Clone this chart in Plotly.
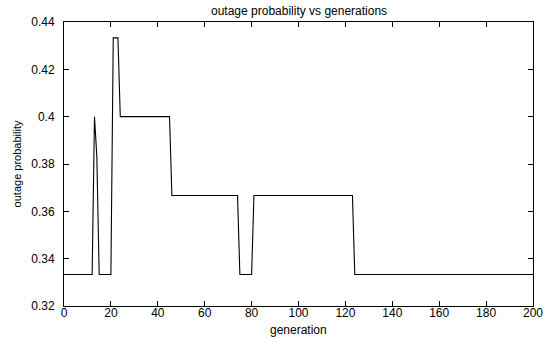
import plotly.graph_objects as go

# breakpoints of the outage-probability curve (generation, value)
generation = [0, 12, 13, 14, 15, 20, 21, 23, 24, 45, 46, 74, 75, 80, 81, 123, 124, 200]
outage_prob = [0.3333, 0.3333, 0.4, 0.3833, 0.3333, 0.3333, 0.4333, 0.4333, 0.4,
               0.4, 0.3667, 0.3667, 0.3333, 0.3333, 0.3667, 0.3667, 0.3333, 0.3333]

x_ticks = [0, 20, 40, 60, 80, 100, 120, 140, 160, 180, 200]
y_ticks = [0.32, 0.34, 0.36, 0.38, 0.40, 0.42, 0.44]
y_tick_labels = ["0.32", "0.34", "0.36", "0.38", "0.4", "0.42", "0.44"]

W, H = 555, 339
ML, MR, MT, MB = 64, 18, 22, 33
PW, PH = W - ML - MR, H - MT - MB

fig = go.Figure()
fig.add_trace(go.Scatter(x=generation, y=outage_prob, mode="lines",
                         line=dict(color="black", width=1.1), showlegend=False))

FAM = "Liberation Sans, Arial, sans-serif"
font = dict(family=FAM, size=12, color="black")

axis_common = dict(showline=True, linecolor="black", linewidth=1, mirror="ticks",
                   ticks="inside", ticklen=5, tickcolor="black", showgrid=False,
                   zeroline=False)

fig.update_layout(
    width=W, height=H, margin=dict(l=ML, r=MR, t=MT, b=MB),
    paper_bgcolor="white", plot_bgcolor="white", font=font,
    xaxis=dict(range=[0, 200], tickvals=x_ticks, ticklabelstandoff=-4,
               tickfont=dict(family=FAM, size=12, color="black"), **axis_common),
    yaxis=dict(range=[0.32, 0.44], tickvals=y_ticks, ticktext=y_tick_labels,
               ticklabelstandoff=6, tickfont=dict(family=FAM, size=12, color="black"),
               **axis_common),
    annotations=[
        dict(text="outage probability vs generations", xref="paper", yref="paper",
             x=0.5, y=1 + 11 / PH, xanchor="center", yanchor="middle", showarrow=False,
             font=dict(family=FAM, size=12, color="black")),
        dict(text="generation", xref="paper", yref="paper",
             x=0.5, y=-24 / PH, xanchor="center", yanchor="middle", showarrow=False,
             font=dict(family=FAM, size=12, color="black")),
        dict(text="outage probability", xref="paper", yref="paper",
             x=(17 - ML) / PW, y=0.5, xanchor="center", yanchor="middle", textangle=-90,
             showarrow=False,
             font=dict(family=FAM, size=11, color="black")),
    ],
)

fig.write_html("out.html")
